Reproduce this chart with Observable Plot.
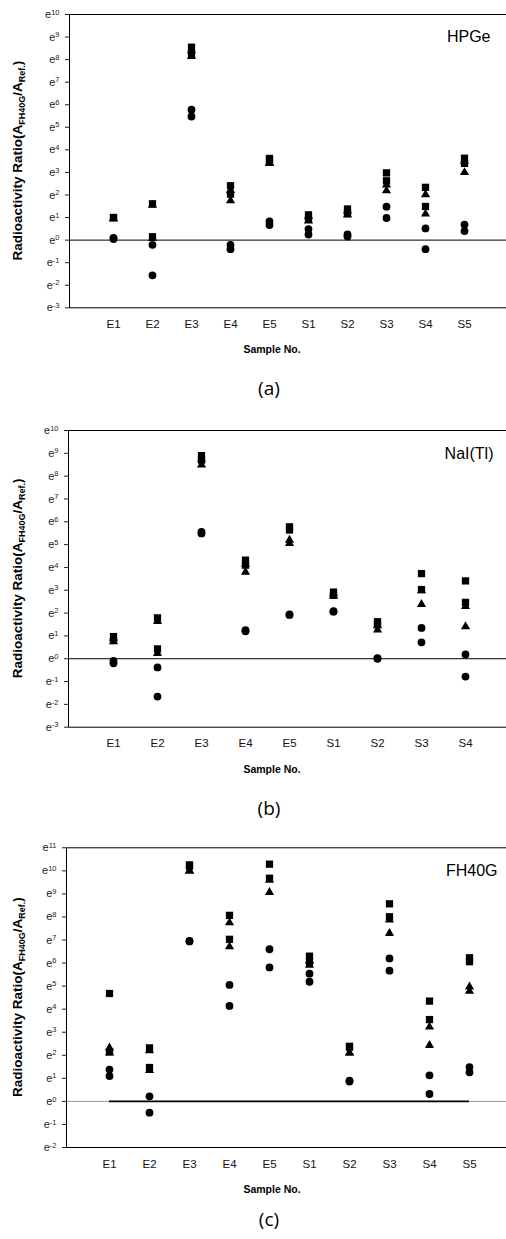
<!DOCTYPE html>
<html>
<head>
<meta charset="utf-8">
<script src="https://cdn.jsdelivr.net/npm/d3@7"></script>
<script src="https://cdn.jsdelivr.net/npm/@observablehq/plot@0.6"></script>
<style>
  html, body { margin: 0; padding: 0; background: #fff; overflow: hidden; }
  #wrap { position: relative; width: 506px; height: 1239px; font-family: "Liberation Sans", Arial, sans-serif; color: #000; }
  .blk { position: absolute; left: 0; }
  .xlab { position: absolute; font-weight: bold; font-size: 10.5px; transform: translate(-50%, -50%); white-space: nowrap; }
  .cap { position: absolute; font-family: "Open Sans", "Noto Sans", sans-serif; font-size: 19px; transform: translate(-50%, -50%); white-space: nowrap; }
</style>
</head>
<body>
<div id="wrap"></div>
<script>
// ---------- data (values are natural-log exponents: ratio = e^v) ----------
const catsA = ["E1","E2","E3","E4","E5","S1","S2","S3","S4","S5"];
const hpgeCircle1 = [0.10, -0.21, 5.78, -0.21, 0.83, 0.49, 0.25, 1.48, 0.52, 0.69];
const hpgeCircle2 = [0.05, -1.56, 5.48, -0.40, 0.67, 0.25, 0.16, 0.98, -0.40, 0.40];
const hpgeTri1    = [0.95, 1.55, 8.40, 2.20, 3.45, 1.05, 1.30, 2.45, 2.02, 3.50];
const hpgeTri2    = [0.95, 0.08, 8.15, 1.75, 3.40, 0.85, 1.12, 2.19, 1.16, 3.00];
const hpgeSq1     = [1.00, 1.61, 8.55, 2.41, 3.62, 1.12, 1.38, 2.98, 2.34, 3.63];
const hpgeSq2     = [1.00, 0.15, 8.25, 2.04, 3.55, 0.92, 1.18, 2.63, 1.49, 3.40];

const catsB = ["E1","E2","E3","E4","E5","S1","S2","S3","S4"];
const naiCircle1 = [-0.09, -0.38, 5.56, 1.25, 1.94, 2.08, 0.03, 1.35, 0.19];
const naiCircle2 = [-0.20, -1.66, 5.49, 1.20, 1.92, 2.06, 0.00, 0.72, -0.78];
const naiTri1    = [0.90, 1.64, 8.75, 4.15, 5.20, 2.85, 1.45, 2.98, 2.29];
const naiTri2    = [0.75, 0.24, 8.50, 3.80, 5.05, 2.75, 1.26, 2.38, 1.41];
const naiSq1     = [0.97, 1.79, 8.90, 4.32, 5.78, 2.92, 1.62, 3.73, 3.41];
const naiSq2     = [0.80, 0.43, 8.70, 4.10, 5.64, 2.78, 1.50, 3.03, 2.47];

const catsC = ["E1","E2","E3","E4","E5","S1","S2","S3","S4","S5"];
const fhCircle1 = [1.38, 0.22, 6.96, 5.05, 6.60, 5.54, 0.90, 6.20, 1.13, 1.49];
const fhCircle2 = [1.10, -0.49, 6.94, 4.14, 5.81, 5.19, 0.86, 5.67, 0.32, 1.26];
const fhTri1    = [2.32, 2.20, 10.00, 7.75, 9.60, 6.10, 2.10, 7.87, 3.23, 4.97];
const fhTri2    = [2.10, 1.35, 10.00, 6.71, 9.07, 5.91, 2.10, 7.29, 2.43, 4.78];
const fhSq1     = [4.68, 2.32, 10.26, 8.07, 10.29, 6.30, 2.39, 8.57, 4.35, 6.23];
const fhSq2     = [2.15, 1.47, 10.20, 7.03, 9.68, 6.06, 2.35, 8.01, 3.55, 6.06];

const panelNames = ["HPGe", "NaI(Tl)", "FH40G"];
const captions = ["(a)", "(b)", "(c)"];

// ---------- helpers ----------
const rows = (cats, arr) => cats.map((c, i) => ({cat: c, v: arr[i]}));

function panel({cats, circles, tris, squares, yMin, yMax, top, height, marginTop, marginBottom, marginLeft, marginRight, name, nameDx, nameDy, zeroSpan}) {
  const marks = [];
  if (zeroSpan) {
    marks.push(Plot.ruleY([0], {stroke: "#9a9a9a", strokeWidth: 1}));
    marks.push(Plot.ruleY([0], {x1: () => cats[0], x2: () => cats[cats.length - 1], stroke: "#000", strokeWidth: 1.6}));
  } else {
    marks.push(Plot.ruleY([0], {stroke: "#000", strokeWidth: 1}));
  }
  marks.push(Plot.frame({stroke: "#000", strokeWidth: 1}));
  marks.push(Plot.axisY({ticks: d3.range(yMin, yMax + 1), tickSize: 4, tickPadding: 6, fontSize: 11, tickFormat: d => "e" + d, label: null, stroke: "#222", fill: "#222"}));
  marks.push(Plot.axisX({tickSize: 0, tickPadding: 12, fontSize: 11.5, label: null, fill: "#111"}));
  for (const arr of tris) marks.push(Plot.dot(rows(cats, arr), {x: "cat", y: "v", symbol: "triangle", r: 3.4, fill: "#000", stroke: "none"}));
  for (const arr of squares) marks.push(Plot.dot(rows(cats, arr), {x: "cat", y: "v", symbol: "square", r: 4.1, fill: "#000", stroke: "none"}));
  for (const arr of circles) marks.push(Plot.dot(rows(cats, arr), {x: "cat", y: "v", symbol: "circle", r: 3.9, fill: "#000", stroke: "none"}));
  marks.push(Plot.text([name], {frameAnchor: "top-right", dx: nameDx, dy: nameDy, text: d => d, fontSize: 16, textAnchor: "end", lineAnchor: "middle", fill: "#000"}));

  const svg = Plot.plot({
    width: 506, height, marginTop, marginBottom, marginLeft, marginRight,
    style: {fontFamily: "'Liberation Sans', Arial, sans-serif", background: "transparent", overflow: "visible"},
    x: {type: "point", domain: cats, padding: 1, label: null, axis: null},
    y: {type: "linear", domain: [yMin, yMax], label: null, axis: null},
    marks
  });

  // superscript exponents on y tick labels
  d3.select(svg).selectAll('g[aria-label="y-axis tick label"] text').each(function() {
    const t = d3.select(this);
    const s = t.text();
    const exp = s.slice(1);
    t.text("e");
    t.append("tspan").attr("dy", "-0.45em").attr("font-size", "7.5px").text(exp);
  });

  // y axis title with subscripts
  const cy = (marginTop + (height - marginBottom)) / 2;
  const lab = d3.select(svg).append("text")
    .attr("transform", `translate(21.5,${cy}) rotate(-90)`)
    .attr("text-anchor", "middle")
    .attr("font-weight", "bold")
    .attr("font-size", "13.5px")
    .attr("fill", "#000");
  lab.append("tspan").text("Radioactivity Ratio(A");
  lab.append("tspan").attr("dy", "3").attr("font-size", "9px").text("FH40G");
  lab.append("tspan").attr("dy", "-3").text("/A");
  lab.append("tspan").attr("dy", "3").attr("font-size", "9px").text("Ref.");
  lab.append("tspan").attr("dy", "-3").text(")");

  const blk = document.createElement("div");
  blk.className = "blk";
  blk.style.top = top + "px";
  blk.appendChild(svg);
  return blk;
}

const wrap = document.getElementById("wrap");

wrap.appendChild(panel({
  cats: catsA, circles: [hpgeCircle1, hpgeCircle2], tris: [hpgeTri1, hpgeTri2], squares: [hpgeSq1, hpgeSq2],
  yMin: -3, yMax: 10, top: 0, height: 365, marginTop: 14, marginBottom: 57.7, marginLeft: 69, marginRight: -2,
  name: panelNames[0], nameDx: -18, nameDy: 22
}));
wrap.appendChild(panel({
  cats: catsB, circles: [naiCircle1, naiCircle2], tris: [naiTri1, naiTri2], squares: [naiSq1, naiSq2],
  yMin: -3, yMax: 10, top: 416, height: 365, marginTop: 14, marginBottom: 54.3, marginLeft: 68, marginRight: -3,
  name: panelNames[1], nameDx: -16, nameDy: 23
}));
wrap.appendChild(panel({
  cats: catsC, circles: [fhCircle1, fhCircle2], tris: [fhTri1, fhTri2], squares: [fhSq1, fhSq2],
  yMin: -2, yMax: 11, top: 833, height: 370, marginTop: 14.3, marginBottom: 56, marginLeft: 66, marginRight: -5,
  name: panelNames[2], nameDx: -14, nameDy: 23, zeroSpan: true
}));

// x-axis titles and panel captions
const xlabY = [349, 769, 1189];
const capY = [388, 808, 1219];
for (let i = 0; i < 3; i++) {
  const xl = document.createElement("div");
  xl.className = "xlab";
  xl.style.left = "272px";
  xl.style.top = xlabY[i] + "px";
  xl.textContent = "Sample No.";
  wrap.appendChild(xl);
  const c = document.createElement("div");
  c.className = "cap";
  c.style.left = "269px";
  c.style.top = capY[i] + "px";
  c.textContent = captions[i];
  wrap.appendChild(c);
}
</script>
</body>
</html>
